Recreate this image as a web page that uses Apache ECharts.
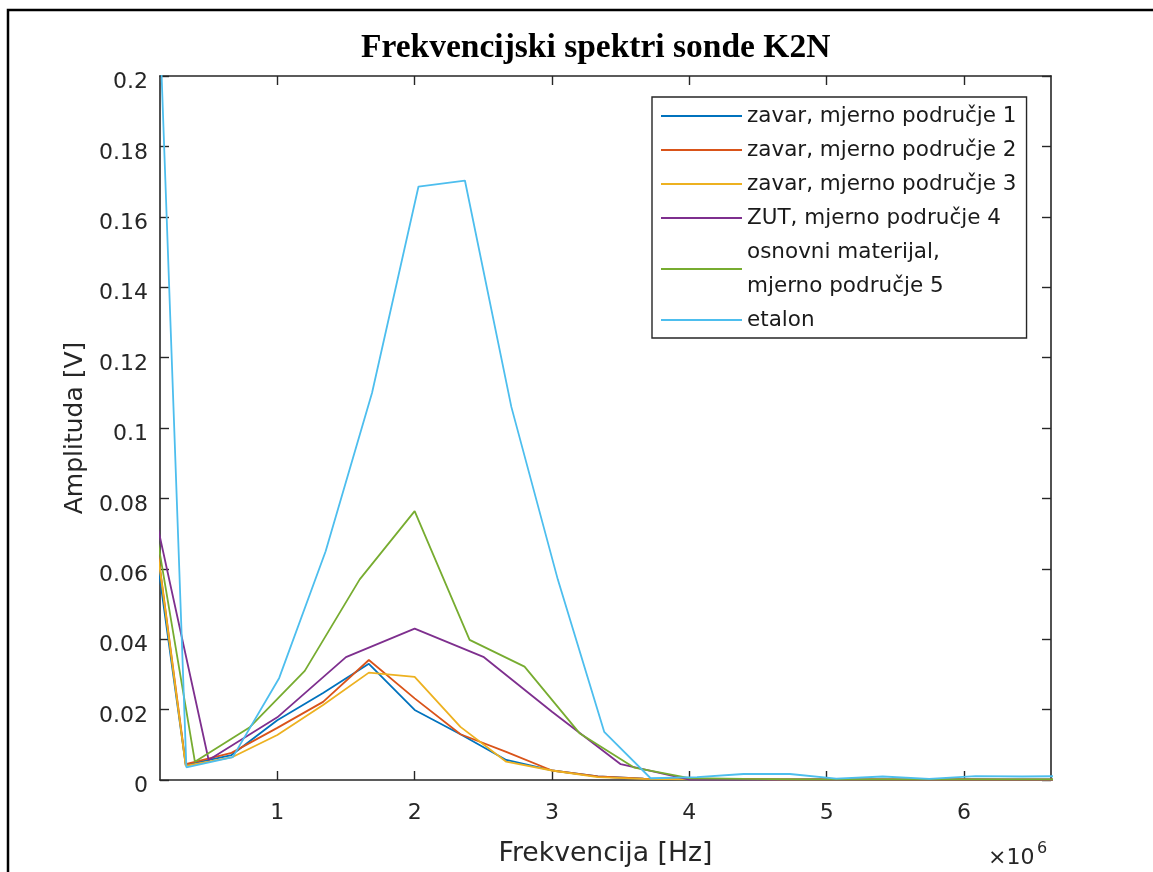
<!DOCTYPE html>
<html>
<head>
<meta charset="utf-8">
<script src="https://cdn.jsdelivr.net/npm/echarts@6/dist/echarts.min.js"></script>
<style>
  html, body { margin: 0; padding: 0; background: #fff; }
  #chart { width: 1153px; height: 872px; }
</style>
</head>
<body>
<div id="chart"></div>
<script>
// ---- data (frequencies in Hz, amplitudes in V) ----
const titleText = 'Frekvencijski spektri sonde K2N';
const xName = 'Frekvencija [Hz]';
const yName = 'Amplituda [V]';
const seriesNames = [
  'zavar, mjerno područje 1',
  'zavar, mjerno područje 2',
  'zavar, mjerno područje 3',
  'ZUT, mjerno područje 4',
  'osnovni materijal,\nmjerno područje 5',
  'etalon'
];
const xTickValues = [1e6, 2e6, 3e6, 4e6, 5e6, 6e6];

const freqThird = [0, 333333, 666667, 1000000, 1333333, 1666667, 2000000, 2333333, 2666667, 3000000,
  3333333, 3666667, 4000000, 4333333, 4666667, 5000000, 5333333, 5666667, 6000000, 6333333, 6666667];
const freqHalf = [0, 500000, 1000000, 1500000, 2000000, 2500000, 3000000, 3500000, 4000000, 4500000,
  5000000, 5500000, 6000000, 6500000, 7000000];
const freqGreen = [0, 400000, 800000, 1200000, 1600000, 2000000, 2400000, 2800000, 3200000, 3600000,
  4000000, 4400000, 4800000, 5200000, 5600000, 6000000, 6400000, 6800000];
const freqEtalon = [0, 338000, 676000, 1014000, 1352000, 1690000, 2028000, 2366000, 2704000, 3042000,
  3380000, 3718000, 4056000, 4394000, 4732000, 5070000, 5408000, 5746000, 6084000, 6422000, 6760000];

const ampZavar1 = [0.098, 0.0043, 0.0071, 0.017, 0.0247, 0.033, 0.0199, 0.013, 0.0057, 0.0027,
  0.001, 0.0004, 0.0002, 0.0002, 0.0001, 0.0002, 0.0001, 0.0001, 0.0002, 0.0001, 0.0001];
const ampZavar2 = [0.1035, 0.0045, 0.0077, 0.0148, 0.0222, 0.0341, 0.0232, 0.013, 0.008, 0.0027,
  0.001, 0.0004, 0.0003, 0.0003, 0.0002, 0.0002, 0.0002, 0.0001, 0.0002, 0.0001, 0.0001];
const ampZavar3 = [0.103, 0.004, 0.0064, 0.0128, 0.0213, 0.0305, 0.0293, 0.0151, 0.0052, 0.0027,
  0.0008, 0.0003, 0.0002, 0.0002, 0.0001, 0.0001, 0.0001, 0.0001, 0.0001, 0.0001, 0.0001];
const ampZUT = [0.095, 0.0057, 0.0178, 0.0349, 0.043, 0.035, 0.0194, 0.0045, 0.0001, 0.0001,
  0.0001, 0.0001, 0.0001, 0.0001, 0.0001];
const ampOsnovni = [0.098, 0.0052, 0.015, 0.031, 0.057, 0.0764, 0.0398, 0.0322, 0.0133, 0.0035,
  0.0005, 0.0003, 0.0002, 0.0002, 0.0002, 0.0002, 0.0002, 0.0002];
const ampEtalon = [0.372, 0.0036, 0.0065, 0.029, 0.065, 0.110, 0.1686, 0.1703, 0.106, 0.057,
  0.0137, 0.0005, 0.0008, 0.0017, 0.0017, 0.0004, 0.001, 0.0003, 0.0011, 0.001, 0.0011];

const seriesFreqs = [freqThird, freqThird, freqThird, freqHalf, freqGreen, freqEtalon];
const seriesAmps = [ampZavar1, ampZavar2, ampZavar3, ampZUT, ampOsnovni, ampEtalon];
const colors = ['#0072BD', '#D95319', '#EDB120', '#7E2F8E', '#77AC30', '#4DBEEE'];

// ---- chart ----
const SANS = 'DejaVu Sans';
const AX = '#262626';
const xMin = 0.146e6, xMax = 6.633e6;

const chart = echarts.init(document.getElementById('chart'), null, { renderer: 'canvas' });

const series = seriesNames.map((name, i) => ({
  name: name,
  type: 'line',
  symbol: 'none',
  showSymbol: false,
  clip: true,
  animation: false,
  color: colors[i],
  lineStyle: { color: colors[i], width: 1.8 },
  emphasis: { disabled: true },
  data: seriesFreqs[i].map((f, j) => [f, seriesAmps[i][j]])
}));

const xAxisBase = {
  type: 'value', min: xMin, max: xMax, gridIndex: 0,
  axisLine: { show: true, onZero: false, lineStyle: { color: AX, width: 1.6 } },
  axisTick: { show: true, inside: true, length: 9, customValues: xTickValues, lineStyle: { color: AX, width: 1.4 } },
  splitLine: { show: false }
};
const yAxisBase = {
  type: 'value', min: 0, max: 0.2, interval: 0.02, gridIndex: 0,
  axisLine: { show: true, onZero: false, lineStyle: { color: AX, width: 1.6 } },
  axisTick: { show: true, inside: true, length: 9, lineStyle: { color: AX, width: 1.4 } },
  splitLine: { show: false }
};

const option = {
  animation: false,
  backgroundColor: '#ffffff',
  title: {
    text: titleText,
    left: 361,
    top: 31,
    padding: 0,
    textStyle: { fontFamily: 'Liberation Serif', fontWeight: 'bold', fontSize: 33.5, color: '#000' }
  },
  grid: { left: 160, right: 102, top: 76, bottom: 92, containLabel: false, outerBoundsMode: 'none' },
  legend: {
    orient: 'vertical',
    left: 652, top: 97,
    padding: [2, 10, 1, 8],
    itemGap: 0,
    itemWidth: 81, itemHeight: 14,
    selectedMode: false,
    backgroundColor: '#fff',
    borderColor: AX, borderWidth: 1.4, borderRadius: 0,
    itemStyle: { opacity: 0 },
    lineStyle: { width: 2 },
    textStyle: { fontFamily: SANS, fontSize: 21.5, color: '#1a1a1a', lineHeight: 34 },
    data: seriesNames
  },
  xAxis: [
    Object.assign({}, xAxisBase, {
      position: 'bottom',
      name: xName, nameLocation: 'middle', nameGap: 61,
      nameTextStyle: { fontFamily: SANS, fontSize: 26.7, color: AX },
      axisLabel: {
        show: true, customValues: xTickValues, margin: 22,
        fontFamily: SANS, fontSize: 22, color: AX,
        formatter: v => String(Math.round(v / 1e6))
      }
    }),
    Object.assign({}, xAxisBase, { position: 'top', axisLabel: { show: false } })
  ],
  yAxis: [
    Object.assign({}, yAxisBase, {
      position: 'left',
      name: yName, nameLocation: 'middle', nameGap: 72,
      nameTextStyle: { fontFamily: SANS, fontSize: 25, color: AX },
      axisLabel: {
        show: true, margin: 12, fontFamily: SANS, fontSize: 22, color: AX,
        verticalAlign: 'top', lineHeight: 13,
        formatter: v => String(+v.toFixed(2))
      }
    }),
    Object.assign({}, yAxisBase, { position: 'right', axisLabel: { show: false } })
  ],
  graphic: [
    {
      type: 'polyline', silent: true,
      shape: { points: [[8, 872], [8, 10], [1153, 10]] },
      style: { stroke: '#000', lineWidth: 2.5, fill: null }
    },
    {
      type: 'text', silent: true, x: 988, y: 858,
      style: { text: '×10', font: '22px "DejaVu Sans"', fill: AX, verticalAlign: 'middle' }
    },
    {
      type: 'text', silent: true, x: 1037, y: 849,
      style: { text: '6', font: '16px "DejaVu Sans"', fill: AX, verticalAlign: 'middle' }
    }
  ],
  series: series
};

chart.setOption(option);
</script>
</body>
</html>
